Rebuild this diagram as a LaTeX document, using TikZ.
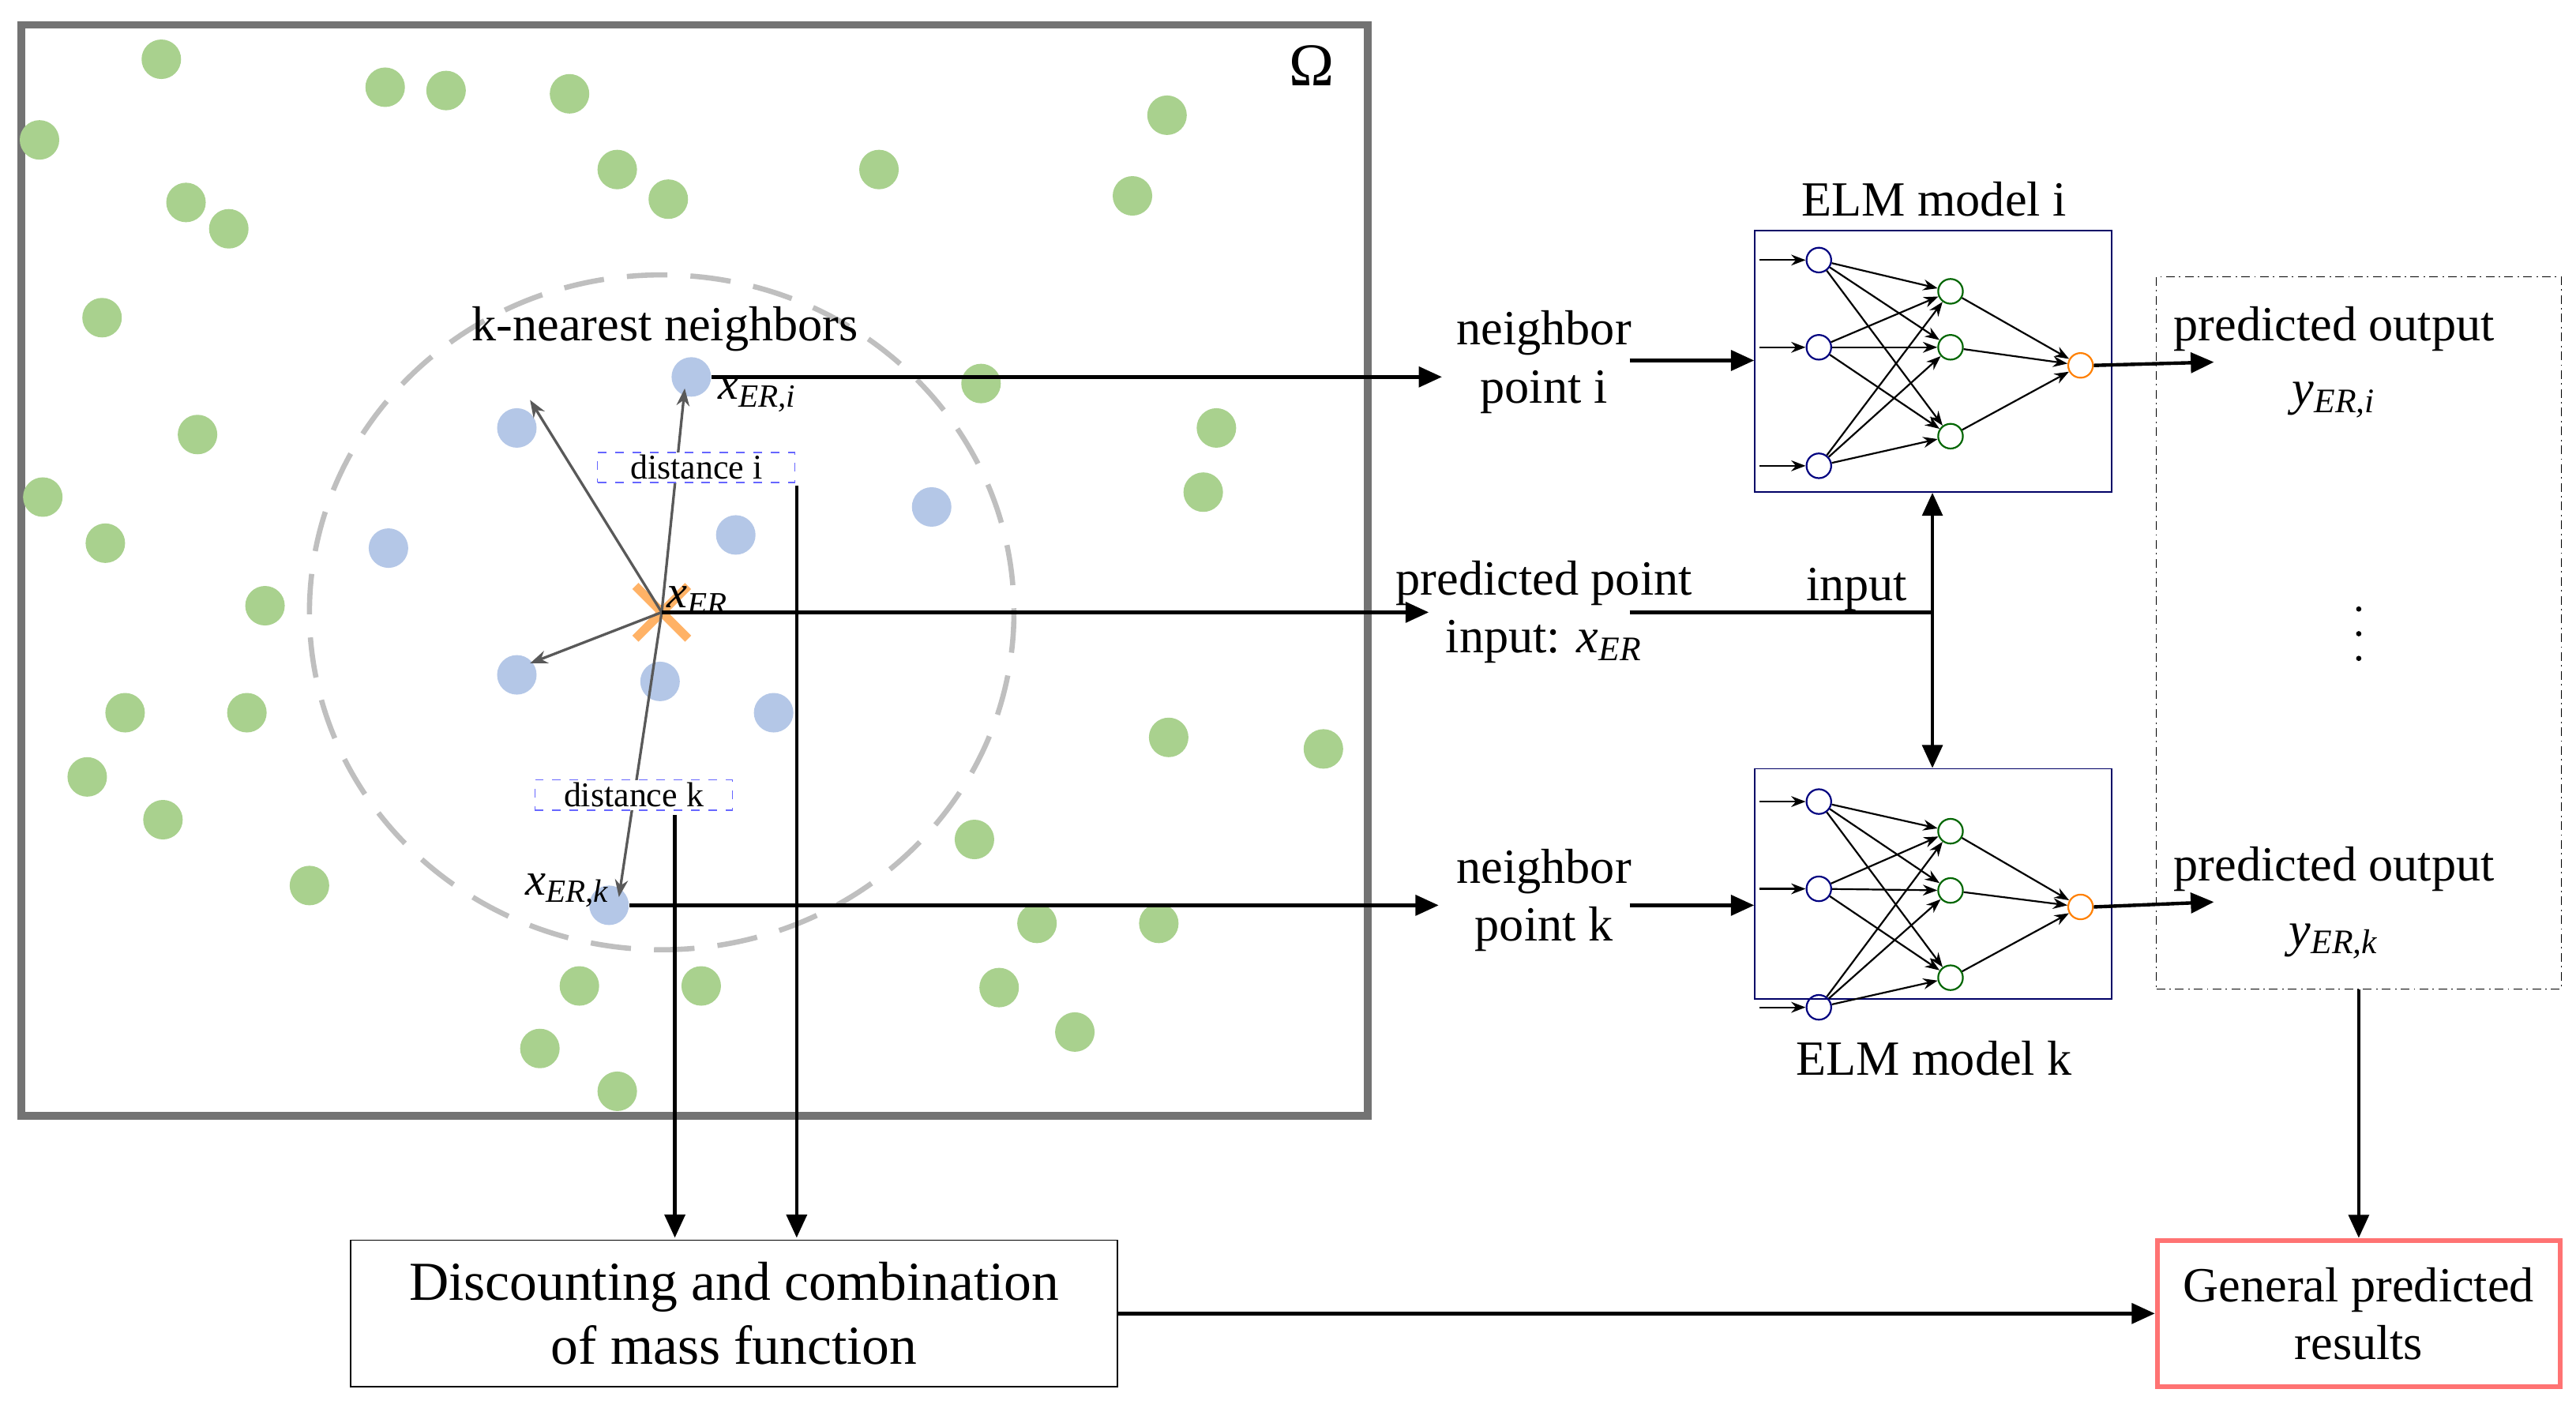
\documentclass[tikz,border=0pt]{standalone}
\usepackage{fontspec}
\setmainfont{Liberation Serif}
\usetikzlibrary{arrows.meta,calc}
\newcommand{\xv}[2]{\textit{#1}\textsubscript{\textit{#2}}}
\begin{document}
\begin{tikzpicture}[x=0.02cm,y=-0.02cm,
 b/.style={circle,fill=bl,draw=none,minimum size=0.48cm,inner sep=0},
 arr/.style={-{Triangle[length=8pt,width=7pt]},line width=1.2pt},
 ga/.style={-{Stealth[length=6pt]},gray!70!black,line width=0.9pt},
 dbox/.style={draw=blue!60!white,dashed,fill=white,font=\fontsize{12}{13}\selectfont,inner sep=1pt,minimum width=2.4cm},
 t/.style={font=\fontsize{17}{20}\selectfont,align=center},
 n/.style={circle,draw,minimum size=0.3cm,inner sep=0,line width=0.6pt},
 na/.style={-{Stealth[length=5pt]},line width=0.6pt}]
\definecolor{gr}{RGB}{169,209,142}
\definecolor{bl}{RGB}{180,199,231}
\useasboundingbox (0,0) rectangle (1565,855);
\fill[white](0,0) rectangle (1565,855);
\draw[gray!90!black,line width=2.6pt] (13,15) rectangle (831,678);
\node[font=\fontsize{21}{22}\selectfont] (om) at (797,40) {Ω};
\foreach \p [count=\i] in {(98,36),(234,53),(271,55),(346,57),(24,85),(709,70),(375,103),(534,103),(113,123),(139,139),(406,121),(688,119),(62,193),(596,233),(739,260),(120,264),(26,302),(731,299),(64,330),(161,368),(76,433),(150,433),(53,472),(710,448),(804,455),(99,498),(592,510),(188,538),(630,561),(704,561),(352,599),(426,599),(607,600),(653,627),(328,637),(375,663)}
  \node[circle,fill=gr,minimum size=0.48cm,inner sep=0] (g\i) at \p {};
\draw[gray!50,dash pattern=on 14pt off 8pt,line width=1.8pt] (402,372) ellipse [x radius=214,y radius=205];
\foreach \p/\n in {(420,229)/bi,(314,260)/b2,(236,333)/b3,(447,325)/b4,(566,308)/b5,(314,410)/b6,(401,414)/b7,(470,433)/b8,(370,550)/bk}
  \node[b] (\n) at \p {};
\coordinate (c) at (402,372);
\draw[orange!60,line width=3pt] (386,356)--(418,388) (386,388)--(418,356);
\node[t] (knn) at (404,200) {k-nearest neighbors};
\draw[ga] (c)--(322,243);
\draw[ga] (c)--(322,403);
\draw[ga] (c)--(416,236);
\draw[ga] (c)--(376,545);
\node[font=\fontsize{16}{17}\selectfont] (lxi) at (460,240) {\xv{x}{ER,i}};
\node[font=\fontsize{16}{17}\selectfont] (lx) at (424,365) {\xv{x}{ER}};
\node[font=\fontsize{16}{17}\selectfont] (lxk) at (345,541) {\xv{x}{ER,k}};
\node[dbox] (di) at (423,284) {distance i};
\node[dbox] (dk) at (385,483) {distance k};
\node[t] (npi) at (938,220) {neighbor\\point i};
\node[t] (pp) at (938,372) {predicted point\\input: \xv{x}{ER}};
\node[t] (npk) at (938,547) {neighbor\\point k};
\draw[arr] (bi.east) -- (876,229);
\draw[arr] (c) -- (868,372);
\draw[arr] (bk.east) -- (874,550);
\node[draw,minimum width=9.32cm,minimum height=1.78cm,font=\fontsize{19}{22}\selectfont,align=center] (dc) at (446,798) {Discounting and combination\\of mass function};
\node[draw=red!55,line width=1.6pt,minimum width=4.9cm,minimum height=1.78cm,font=\fontsize{17}{20}\selectfont,align=center] (gp) at (1433,798) {General predicted\\results};
\draw[arr] (484,295) -- (484,752);
\draw[arr] (410,495) -- (410,752);
\draw[arr] (dc.east) -- (gp.west);
\node[draw=blue!40!black,minimum width=4.34cm,minimum height=3.18cm] (ei) at (1174.5,219.5) {};
\node[draw=blue!40!black,minimum width=4.34cm,minimum height=2.8cm] (ek) at (1174.5,537) {};
\node[t] (eil) at (1175,121) {ELM model i};
\node[t] (ekl) at (1175,643) {ELM model k};
\draw[arr] (990,219) -- (ei.west|-0,219);
\draw[arr] (990,550) -- (ek.west|-0,550);
\draw[line width=1.2pt] (990,372) -- (1174,372);
\node[t] (inp) at (1128,358) {input};
\draw[{Triangle[length=8pt,width=7pt]}-{Triangle[length=8pt,width=7pt]},line width=1.2pt] (ei.south-|1174,0) -- (ek.north-|1174,0);
\foreach \s/\a/\b/\c/\h/\j/\k/\o in {i/158/211/283/177/211/265/222,k/487/540/612/505/541/594/551}{
  \node[n,draw=blue!50!black] (\s i1) at (1105,\a) {};
  \node[n,draw=blue!50!black] (\s i2) at (1105,\b) {};
  \node[n,draw=blue!50!black] (\s i3) at (1105,\c) {};
  \node[n,draw=green!40!black] (\s h1) at (1185,\h) {};
  \node[n,draw=green!40!black] (\s h2) at (1185,\j) {};
  \node[n,draw=green!40!black] (\s h3) at (1185,\k) {};
  \node[n,draw=orange] (\s o) at (1264,\o) {};
  \foreach \q in {1,2,3}{
    \coordinate (\s s\q) at ($(\s i\q)+(-36,0)$);
    \draw[na] (\s s\q) -- (\s i\q);
    \draw[na] (\s h\q) -- (\s o);
    \foreach \r in {1,2,3}{\draw[na] (\s i\q) -- (\s h\r);}
  }
}
\node[draw,dash pattern=on 3pt off 1.5pt on 0.5pt off 1.5pt,minimum width=4.92cm,minimum height=8.66cm] (po) at (1433,384.5) {};
\draw[arr] (io.east) -- (1345,220);
\draw[arr] (ko.east) -- (1345,548);
\node[t] (p1) at (1418,200) {predicted output};
\node[t] (y1) at (1418,243) {\xv{y}{ER,i}};
\foreach \yy in {370,385,400} \fill (1433,\yy) circle (1.6);
\node[t] (p2) at (1418,528) {predicted output};
\node[t] (y2) at (1418,572) {\xv{y}{ER,k}};
\draw[arr] (po.south) -- (gp.north);
\end{tikzpicture}
\end{document}
